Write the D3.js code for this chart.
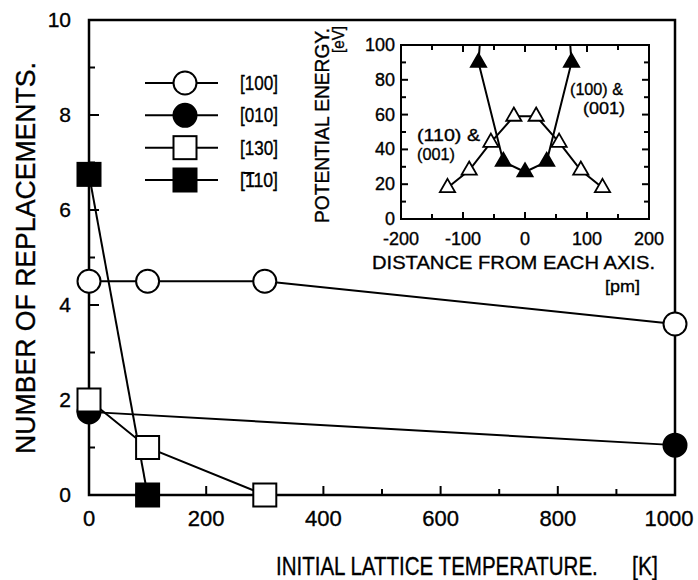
<!DOCTYPE html>
<html>
<head>
<meta charset="utf-8">
<script src="https://cdn.jsdelivr.net/npm/d3@7"></script>
<style>
  body { margin: 0; background: #fff; }
  svg { display: block; }
  text { font-family: "Liberation Sans Narrow", "Arial Narrow", "Liberation Sans", Arial, sans-serif; fill: #000; stroke: #000; stroke-width: 0.35; }
</style>
</head>
<body>
<svg id="chart" width="698" height="580"></svg>
<script>
// main chart: replacements vs. initial lattice temperature
const seriesNames = ["[100]", "[010]", "[130]", "[110]"];
const tempI00 = [0, 100, 300, 1000];
const replI00 = [4.5, 4.5, 4.5, 3.6];
const temp010 = [0, 1000];
const repl010 = [1.75, 1.05];
const tempI30 = [0, 100, 300];
const replI30 = [2, 1, 0];
const tempT10 = [0, 100];
const replT10 = [6.75, 0];

const xTickLabels = [0, 200, 400, 600, 800, 1000];
const yTickLabels = [0, 2, 4, 6, 8, 10];

// inset: potential energy vs. distance from axis
const distOpen = [-125, -90, -55, -18, 18, 55, 90, 125];
const energyOpen = [18, 28, 44, 59, 59, 44, 28, 18];
const distFilled = [-75, -35, 0, 35, 75];
const energyFilled = [90, 33, 27, 33, 90];
// where the filled curve leaves the top of the inset
const distFilledTop = [-73, 73];
const energyFilledTop = [100, 100];

const insetXTickLabels = [-200, -100, 0, 100, 200];
const insetYTickLabels = [0, 20, 40, 60, 80, 100];

const svg = d3.select("#chart");

const x = d3.scaleLinear().domain([0, 1000]).range([89, 675]);
const y = d3.scaleLinear().domain([0, 10]).range([495, 20]);

const zip = (xs, ys) => xs.map((v, i) => [v, ys[i]]);
const line = d3.line().x((d) => x(d[0])).y((d) => y(d[1]));

// squeeze a text horizontally to a given width
const fitWidth = (sel, tx, ty, w) => {
  const natural = sel.node().getComputedTextLength();
  sel.attr("transform", `translate(${tx},${ty}) scale(${w / natural},1)`);
};

// frame
svg.append("rect")
  .attr("x", x(0)).attr("y", y(10))
  .attr("width", x(1000) - x(0)).attr("height", y(0) - y(10))
  .attr("fill", "none").attr("stroke", "#000").attr("stroke-width", 2.5);

// inward ticks, left and bottom
svg.append("g").selectAll("line")
  .data(d3.range(1, 10))
  .enter().append("line")
  .attr("x1", x(0)).attr("x2", (d) => x(0) + (d % 2 === 0 ? 10 : 6))
  .attr("y1", (d) => y(d)).attr("y2", (d) => y(d))
  .attr("stroke", "#000").attr("stroke-width", 2);

svg.append("g").selectAll("line")
  .data(d3.range(100, 1000, 100))
  .enter().append("line")
  .attr("x1", (d) => x(d)).attr("x2", (d) => x(d))
  .attr("y1", y(0)).attr("y2", (d) => y(0) - (d % 200 === 0 ? 9 : 6))
  .attr("stroke", "#000").attr("stroke-width", 2);

svg.append("g").selectAll("text")
  .data(yTickLabels)
  .enter().append("text")
  .attr("x", 71).attr("y", (d) => y(d) + 7)
  .attr("text-anchor", "end")
  .attr("font-size", 21)
  .text((d) => d);

svg.append("g").selectAll("text")
  .data(xTickLabels)
  .enter().append("text")
  .attr("x", (d) => Math.min(x(d), 669)).attr("y", 526)
  .attr("text-anchor", "middle")
  .attr("font-size", 22)
  .text((d) => d);

// axis titles
svg.append("text")
  .attr("transform", "translate(35,258) rotate(-90)")
  .attr("text-anchor", "middle")
  .attr("font-size", 27)
  .attr("textLength", 392).attr("lengthAdjust", "spacingAndGlyphs")
  .text("NUMBER OF REPLACEMENTS.");

const xTitle = svg.append("text")
  .attr("font-size", 26)
  .text("INITIAL LATTICE TEMPERATURE.");
fitWidth(xTitle, 276, 575, 322);

const xUnit = svg.append("text")
  .attr("font-size", 26)
  .text("[K]");
fitWidth(xUnit, 632, 575, 26);

// data
const series = [
  { pts: zip(temp010, repl010), shape: "circle", fill: "#000" },
  { pts: zip(tempI00, replI00), shape: "circle", fill: "#fff" },
  { pts: zip(tempT10, replT10), shape: "square", fill: "#000" },
  { pts: zip(tempI30, replI30), shape: "square", fill: "#fff" },
];

const drawMarker = (g, shape, fill, cx, cy) => {
  if (shape === "circle") {
    g.append("circle").attr("cx", cx).attr("cy", cy).attr("r", 11.5)
      .attr("fill", fill).attr("stroke", "#000").attr("stroke-width", 2);
  } else {
    g.append("rect").attr("x", cx - 11.5).attr("y", cy - 11.5)
      .attr("width", 23).attr("height", 23)
      .attr("fill", fill).attr("stroke", "#000").attr("stroke-width", 2);
  }
};

const dataG = svg.append("g");
series.forEach((s) => {
  dataG.append("path").attr("d", line(s.pts))
    .attr("fill", "none").attr("stroke", "#000").attr("stroke-width", 2);
});
series.forEach((s) => {
  s.pts.forEach((p) => drawMarker(dataG, s.shape, s.fill, x(p[0]), y(p[1])));
});

// legend
const legendOrder = [
  { shape: "circle", fill: "#fff" },
  { shape: "circle", fill: "#000" },
  { shape: "square", fill: "#fff" },
  { shape: "square", fill: "#000" },
];
const legendY = d3.scalePoint().domain(d3.range(4)).range([83, 180]);
const legendG = svg.append("g");
legendOrder.forEach((o, i) => {
  const ly = legendY(i);
  legendG.append("line").attr("x1", 145).attr("x2", 218).attr("y1", ly).attr("y2", ly)
    .attr("stroke", "#000").attr("stroke-width", 2);
  drawMarker(legendG, o.shape, o.fill, 185, ly);
  const t = legendG.append("text").attr("x", 240).attr("y", ly + 7)
    .attr("font-size", 20)
    .attr("textLength", 38).attr("lengthAdjust", "spacingAndGlyphs")
    .text(seriesNames[i]);
  if (i === 3) {
    // bar over the first index: [-1 1 0]
    const ext = t.node().getExtentOfChar(1);
    legendG.append("line")
      .attr("x1", ext.x - 1).attr("x2", ext.x + ext.width + 1)
      .attr("y1", ly - 7).attr("y2", ly - 7)
      .attr("stroke", "#000").attr("stroke-width", 2);
  }
});

// inset
const ix = d3.scaleLinear().domain([-200, 200]).range([401, 649]);
const iy = d3.scaleLinear().domain([0, 100]).range([219, 45]);
const iline = d3.line().x((d) => ix(d[0])).y((d) => iy(d[1]));
const inset = svg.append("g");

inset.append("rect")
  .attr("x", ix(-200)).attr("y", iy(100))
  .attr("width", ix(200) - ix(-200)).attr("height", iy(0) - iy(100))
  .attr("fill", "#fff").attr("stroke", "#000").attr("stroke-width", 2);

d3.range(-150, 200, 50).forEach((d) => {
  const len = d % 100 === 0 ? 7 : 5;
  inset.append("line").attr("x1", ix(d)).attr("x2", ix(d))
    .attr("y1", iy(0)).attr("y2", iy(0) - len).attr("stroke", "#000").attr("stroke-width", 2);
  inset.append("line").attr("x1", ix(d)).attr("x2", ix(d))
    .attr("y1", iy(100)).attr("y2", iy(100) + len).attr("stroke", "#000").attr("stroke-width", 2);
});
d3.range(10, 100, 10).forEach((d) => {
  const len = d % 20 === 0 ? 7 : 5;
  inset.append("line").attr("x1", ix(-200)).attr("x2", ix(-200) + len)
    .attr("y1", iy(d)).attr("y2", iy(d)).attr("stroke", "#000").attr("stroke-width", 2);
  inset.append("line").attr("x1", ix(200)).attr("x2", ix(200) - len)
    .attr("y1", iy(d)).attr("y2", iy(d)).attr("stroke", "#000").attr("stroke-width", 2);
});

inset.selectAll(".iyl")
  .data(insetYTickLabels)
  .enter().append("text")
  .attr("class", "iyl")
  .attr("x", 395).attr("y", (d) => iy(d) + 6)
  .attr("text-anchor", "end")
  .attr("font-size", 18)
  .text((d) => d);

inset.selectAll(".ixl")
  .data(insetXTickLabels)
  .enter().append("text")
  .attr("class", "ixl")
  .attr("x", (d) => ix(d)).attr("y", 245)
  .attr("text-anchor", "middle")
  .attr("font-size", 18)
  .text((d) => d);

inset.append("text")
  .attr("x", 372).attr("y", 269)
  .attr("font-size", 19)
  .attr("textLength", 283).attr("lengthAdjust", "spacingAndGlyphs")
  .text("DISTANCE FROM EACH AXIS.");
inset.append("text")
  .attr("x", 605).attr("y", 292)
  .attr("font-size", 17)
  .attr("textLength", 35).attr("lengthAdjust", "spacingAndGlyphs")
  .text("[pm]");

inset.append("text")
  .attr("transform", "translate(329,223) rotate(-90)")
  .attr("font-size", 20)
  .attr("textLength", 195).attr("lengthAdjust", "spacingAndGlyphs")
  .text("POTENTIAL ENERGY.");
inset.append("text")
  .attr("transform", "translate(344,53) rotate(-90)")
  .attr("font-size", 16)
  .attr("textLength", 27).attr("lengthAdjust", "spacingAndGlyphs")
  .text("[eV]");

const notes = [
  { t: "(110) &", x: 417, y: 141, w: 63 },
  { t: "(001)", x: 417, y: 160, w: 38 },
  { t: "(100) &", x: 570, y: 95, w: 53 },
  { t: "(001)", x: 583, y: 114, w: 42 },
];
notes.forEach((n) => {
  inset.append("text").attr("x", n.x).attr("y", n.y)
    .attr("font-size", 17)
    .attr("textLength", n.w).attr("lengthAdjust", "spacingAndGlyphs")
    .text(n.t);
});

const openPts = zip(distOpen, energyOpen);
const filledPts = zip(distFilled, energyFilled);
const filledLine = [[distFilledTop[0], energyFilledTop[0]], ...filledPts, [distFilledTop[1], energyFilledTop[1]]];

inset.append("path").attr("d", iline(openPts))
  .attr("fill", "none").attr("stroke", "#000").attr("stroke-width", 2);
inset.append("path").attr("d", iline(filledLine))
  .attr("fill", "none").attr("stroke", "#000").attr("stroke-width", 2);

const tri = d3.symbol().type(d3.symbolTriangle).size(100);
inset.selectAll(".topen")
  .data(openPts)
  .enter().append("path")
  .attr("class", "topen")
  .attr("d", tri)
  .attr("transform", (d) => `translate(${ix(d[0])},${iy(d[1])})`)
  .attr("fill", "#fff").attr("stroke", "#000").attr("stroke-width", 1.8);
inset.selectAll(".tfill")
  .data(filledPts)
  .enter().append("path")
  .attr("class", "tfill")
  .attr("d", tri)
  .attr("transform", (d) => `translate(${ix(d[0])},${iy(d[1])})`)
  .attr("fill", "#000").attr("stroke", "#000").attr("stroke-width", 1.8);
</script>
</body>
</html>
